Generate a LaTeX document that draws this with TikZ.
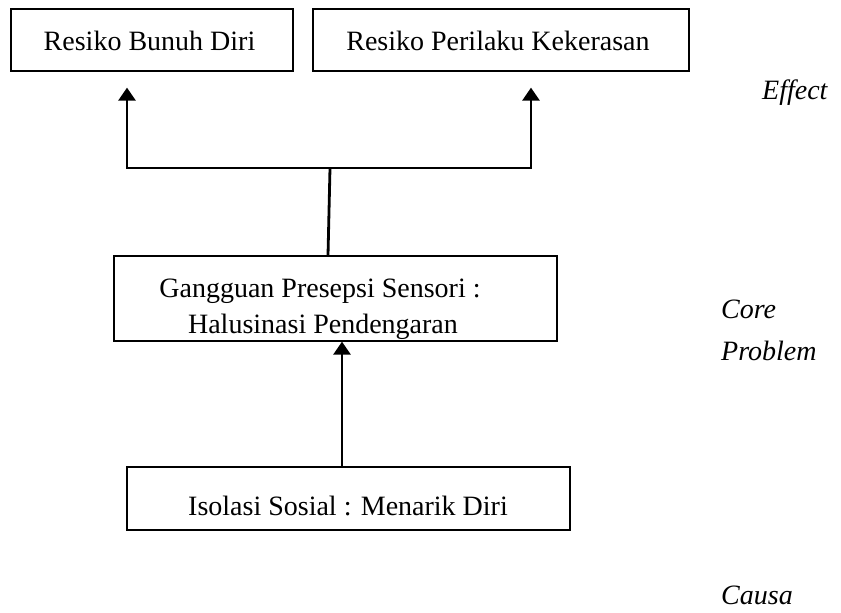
\documentclass[tikz,border=0pt]{standalone}
\usepackage{fontspec}
\setmainfont{Liberation Serif}
\usetikzlibrary{arrows.meta}
\begin{document}
\begin{tikzpicture}[x=1pt,y=-1pt,
  box/.style={draw, line width=1.3pt, inner sep=0pt},
  txt/.style={anchor=base, inner sep=0pt, font=\fontsize{28}{26}\selectfont},
  side/.style={anchor=base west, inner sep=0pt, font=\fontsize{28}{26}\selectfont\itshape},
  conn/.style={line width=2.8pt},
  tip/.style={-{Triangle[width=17pt,length=13pt]}}]
\useasboundingbox (0,0) rectangle (841,613);
% boxes
\node[box, minimum width=282pt, minimum height=62pt] (b1) at (152,40) {};
\node[box, minimum width=376pt, minimum height=62pt] (b2) at (501,40) {};
\node[box, minimum width=443pt, minimum height=85pt] (b3) at (335.5,298.5) {};
\node[box, minimum width=443pt, minimum height=63pt] (b4) at (348.5,498.5) {};
% texts
\node[txt] (t1) at (149.5,50) {Resiko Bunuh Diri};
\node[txt] (t2) at (498,50) {Resiko Perilaku Kekerasan};
\node[txt] (t3a) at (320,297) {Gangguan Presepsi Sensori :};
\node[txt] (t3b) at (323,333) {Halusinasi Pendengaran};
\node[txt] (t4) at (348,515) {Isolasi Sosial : Menarik Diri};
% side labels
\node[side] (eff) at (762,99) {Effect};
\node[side] (core) at (721,318) {Core};
\node[side] (prob) at (721,360) {Problem};
\node[side] (causa) at (721,604) {Causa};
% connectors
\coordinate (a1) at (127,168);
\coordinate (a2) at (531,168);
\coordinate (j) at (330,168);
\draw[conn, line join=miter, {Triangle[width=17pt,length=13pt]}-{Triangle[width=17pt,length=13pt]}, shorten <=16pt, shorten >=16pt]
  (a1 |- b1.south) -- (a1) -- (a2) -- (a2 |- b2.south);
\draw[conn] (j) -- ([xshift=-7.5pt]b3.north);
\draw[conn, tip] ([xshift=-6.5pt]b4.north) -- ([xshift=6.5pt]b3.south);
\end{tikzpicture}
\end{document}
